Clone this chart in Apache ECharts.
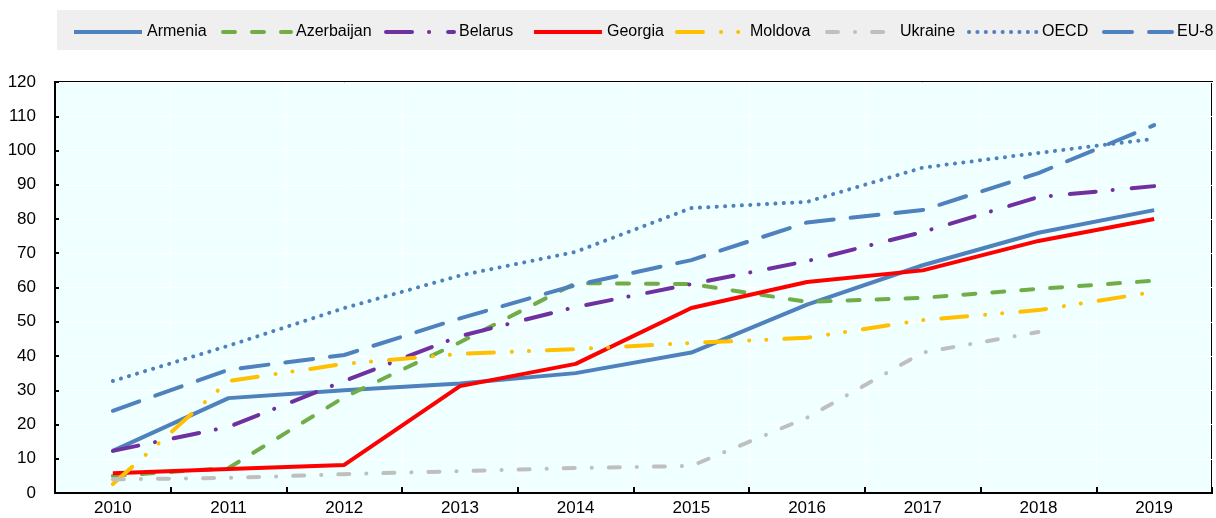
<!DOCTYPE html>
<html><head><meta charset="utf-8">
<script src="https://cdn.jsdelivr.net/npm/echarts@6/dist/echarts.min.js"></script>
<style>html,body{margin:0;padding:0;background:#fff}#c{width:1216px;height:518px}</style>
</head><body><div id="c"></div>
<script>
const years = ['2010','2011','2012','2013','2014','2015','2016','2017','2018','2019'];
const armenia    = [12.3, 27.7, 30.0, 32.0, 35.0, 41.0, 55.0, 66.5, 76.0, 82.6];
const azerbaijan = [5.0, 7.3, 28.0, 44.0, 61.3, 61.0, 55.8, 57.0, 59.6, 62.0];
const belarus    = [12.3, 19.3, 32.7, 45.8, 54.3, 61.0, 67.7, 76.2, 86.4, 89.6];
const georgia    = [5.8, 7.0, 8.2, 31.2, 37.7, 54.0, 61.6, 65.0, 73.6, 80.0];
const moldova    = [2.6, 32.7, 37.7, 40.6, 42.0, 43.8, 45.3, 50.5, 53.4, 58.7];
const ukraine    = [4.0, 4.4, 5.5, 6.4, 7.3, 7.9, 22.0, 41.0, 47.0, null];
const oecd       = [32.7, 43.0, 54.0, 63.5, 70.4, 83.2, 85.0, 95.0, 99.3, 103.4];
const eu8        = [24.0, 36.0, 40.3, 51.0, 60.7, 68.0, 79.0, 82.6, 93.4, 107.4];

const FONT = "'Liberation Sans', Arial, sans-serif";
const defs = [
  {name:'Armenia', data:armenia, color:'#4F81BD', type:'solid', cap:'butt', legendLeft:72},
  {name:'Azerbaijan', data:azerbaijan, color:'#70AD47', type:[12,17], cap:'round', legendLeft:221},
  {name:'Belarus', data:belarus, color:'#7030A0', type:[26,17,0.1,19], cap:'round', legendLeft:384},
  {name:'Georgia', data:georgia, color:'#FF0000', type:'solid', cap:'butt', legendLeft:532},
  {name:'Moldova', data:moldova, color:'#FFC000', type:[26,18,0.1,17,0.1,18], cap:'round', legendLeft:675},
  {name:'Ukraine', data:ukraine, color:'#BFBFBF', type:[11,17,0.1,17], cap:'round', legendLeft:825},
  {name:'OECD', data:oecd, color:'#4F81BD', type:[0.1,8.3], cap:'round', legendLeft:967},
  {name:'EU-8', data:eu8, color:'#4F81BD', type:[28,17], cap:'round', legendLeft:1102}
];

const chart = echarts.init(document.getElementById('c'), null, {renderer:'canvas'});
const legends = defs.map(d => ({
  data:[d.name], left:d.legendLeft, top:24, padding:0, itemWidth:68, itemHeight:20, itemGap:8,
  itemStyle:{opacity:0},
  lineStyle:{width:4},
  textStyle:{fontFamily:FONT, fontSize:16, color:'#000'}
}));
chart.setOption({
  animation:false,
  backgroundColor:'#fff',
  graphic:[{type:'rect', shape:{x:57,y:10,width:1159,height:40}, style:{fill:'#EFEFEF'}, z:-10}],
  legend: legends,
  grid:{left:55, right:4, top:82, bottom:25, show:true, backgroundColor:'#F0FFFF', borderColor:'#000', borderWidth:2},
  xAxis:{type:'category', data:years, boundaryGap:true,
    axisLine:{lineStyle:{color:'#000', width:2}},
    axisTick:{show:true, inside:true, length:6, lineStyle:{color:'#000', width:2}},
    splitLine:{show:true, lineStyle:{color:'#ffffff', width:1}},
    axisLabel:{color:'#000', fontSize:17, fontFamily:FONT, margin:7}},
  yAxis:{type:'value', min:0, max:120, interval:10,
    axisLine:{show:true, lineStyle:{color:'#000', width:2}},
    axisTick:{show:true, inside:true, length:4, lineStyle:{color:'#000', width:2}},
    splitLine:{show:true, lineStyle:{color:'#ffffff', width:1}},
    axisLabel:{color:'#000', fontSize:17, fontFamily:FONT, margin:19}},
  series: defs.map(d => ({
    name:d.name, type:'line', data:d.data, symbol:'none', showSymbol:false, connectNulls:false,
    itemStyle:{color:d.color},
    lineStyle:{color:d.color, width:4, type:d.type, cap:d.cap, join:'round'}
  }))
});
</script></body></html>
